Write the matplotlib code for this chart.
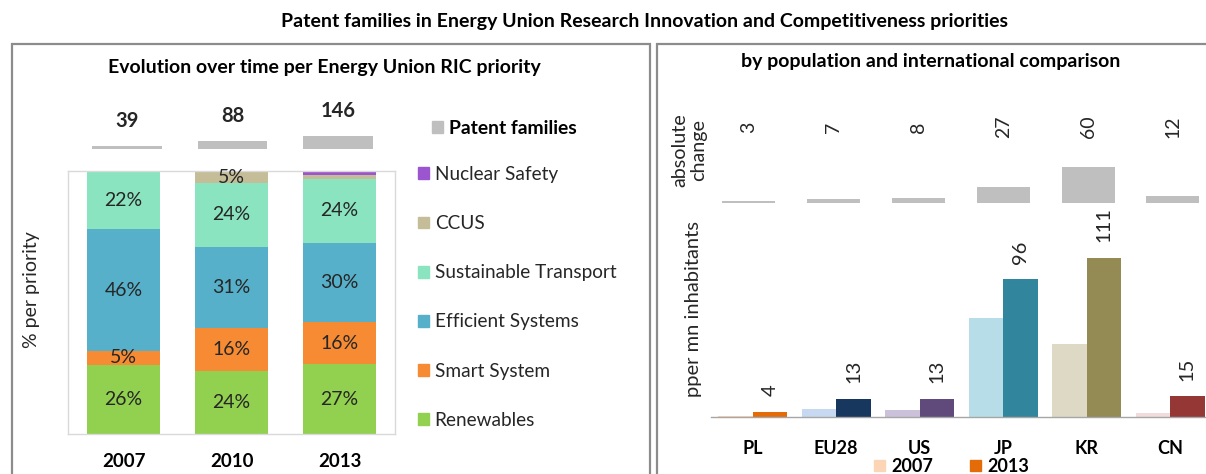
import matplotlib
matplotlib.use("Agg")
import matplotlib.pyplot as plt
from matplotlib.patches import Patch, Rectangle

plt.rcParams['font.family'] = ['Lato', 'DejaVu Sans']

# left panel: share of patent families per priority (%)
years = ['2007', '2010', '2013']
patent_families = [39, 88, 146]
priorities = ['Renewables', 'Smart System', 'Efficient Systems',
              'Sustainable Transport', 'CCUS', 'Nuclear Safety']
renewables = [26.3, 24.1, 26.6]
smart_system = [5.3, 16.3, 15.8]
efficient_systems = [46.3, 30.8, 30.4]
sustainable_transport = [22.1, 24.2, 24.0]
ccus = [0.0, 4.6, 1.6]
nuclear_safety = [0.0, 0.0, 1.6]

# right panel: patent families per mn inhabitants
countries = ['PL', 'EU28', 'US', 'JP', 'KR', 'CN']
per_mn_2007 = [1, 6, 5, 69, 51, 3]
per_mn_2013 = [4, 13, 13, 96, 111, 15]
absolute_change = [3, 7, 8, 27, 60, 12]

prio_colors = ['#92d050', '#f68b33', '#57b0ca', '#8ae4c0', '#c4bd97', '#9b55cf']
fam_color = '#bfbfbf'
colors_2007 = ['#fbd5b5', '#c6d9f1', '#ccc1da', '#b7dee8', '#ddd9c4', '#f2dcdb']
colors_2013 = ['#e36c09', '#17375e', '#604a7b', '#31859c', '#948a54', '#953735']
text_col = '#262626'

W, H = 1206, 474
fig = plt.figure(figsize=(W / 100, H / 100), dpi=100)


def box(x0, y0, x1, y1):
    # pixel box (top-left origin) -> figure fraction rect
    return [x0 / W, 1 - y1 / H, (x1 - x0) / W, (y1 - y0) / H]


def clean(ax):
    for s in ax.spines.values():
        s.set_visible(False)
    ax.set_yticks([])
    ax.tick_params(length=0)


# panel frames
for x0, x1 in [(11.5, 650), (656.5, 1220)]:
    fig.add_artist(Rectangle((x0 / W, -0.1), (x1 - x0) / W, 1.1 - 44.5 / H,
                             transform=fig.transFigure, fill=False,
                             edgecolor='#8c8c8c', lw=1.6))

fig.text(645 / W, 1 - 21 / H,
         'Patent families in Energy Union Research Innovation and Competitiveness priorities',
         ha='center', va='center', fontsize=14, fontweight='bold', color='black')
fig.text(324 / W, 1 - 68 / H, 'Evolution over time per Energy Union RIC priority',
         ha='center', va='center', fontsize=14, fontweight='bold', color='black')
fig.text(931 / W, 1 - 62 / H, 'by population and international comparison',
         ha='center', va='center', fontsize=14, fontweight='bold', color='black')

# --- patent family totals above the stacked bars
ax_fam = fig.add_axes(box(68, 100, 395, 149.3))
clean(ax_fam)
ax_fam.set_xticks([])
xf = range(len(years))
ax_fam.bar(xf, patent_families, width=0.66, color=fam_color)
for i, v in enumerate(patent_families):
    ax_fam.annotate(str(v), (i, v), xytext=(0, 11), textcoords='offset points',
                    ha='center', va='bottom', fontsize=14.5, fontweight='bold',
                    color=text_col)
ax_fam.set_xlim(-0.56, 2.54)
ax_fam.set_ylim(0, 553)

# --- stacked shares per priority
ax_mix = fig.add_axes(box(68, 171, 395, 434))
x = range(len(years))
series = [renewables, smart_system, efficient_systems,
          sustainable_transport, ccus, nuclear_safety]
bottom = [0.0] * len(years)
for name, vals, col in zip(priorities, series, prio_colors):
    ax_mix.bar(x, vals, width=0.667, bottom=bottom, color=col, label=name)
    for i, v in enumerate(vals):
        if v >= 3:
            ax_mix.text(i, bottom[i] + v / 2, f'{v:.0f}%', ha='center',
                        va='center', fontsize=14, color=text_col)
    bottom = [b + v for b, v in zip(bottom, vals)]
ax_mix.set_xlim(-0.514, 2.514)
ax_mix.set_ylim(0, 100)
ax_mix.set_yticks([])
ax_mix.set_xticks(list(x))
ax_mix.set_xticklabels(years, fontsize=13.5, fontweight='bold', color='black')
ax_mix.tick_params(length=0, pad=14)
for s in ax_mix.spines.values():
    s.set_color('#d9d9d9')
    s.set_linewidth(1.0)

fig.text(32 / W, 1 - 290 / H, '% per priority', rotation=90, ha='center',
         va='center', fontsize=14, color=text_col)

handles = [Patch(color=c, label=n) for n, c in zip(priorities, prio_colors)][::-1]
fig.legend(handles=handles, loc='upper left', bbox_to_anchor=(418 / W, 1 - 166 / H),
           frameon=False, fontsize=13.7, handlelength=0.58, handleheight=0.58,
           handletextpad=0.3, labelspacing=1.69, borderaxespad=0, borderpad=0,
           labelcolor=text_col)
fam_leg = fig.legend(handles=[Patch(color=fam_color, label='Patent families')],
                     loc='center left', bbox_to_anchor=(432 / W, 1 - 128 / H),
                     frameon=False, handlelength=0.58, handleheight=0.58,
                     handletextpad=0.3, borderaxespad=0, borderpad=0,
                     prop={'size': 13.9, 'weight': 'bold'})

# --- absolute change 2007-2013
ax_chg = fig.add_axes(box(706.6, 100, 1206, 202.8))
clean(ax_chg)
ax_chg.set_xticks([])
xc = range(len(countries))
ax_chg.bar(xc, absolute_change, width=0.625, color=fam_color)
for i, v in enumerate(absolute_change):
    ax_chg.text(i, 0.737, str(v), transform=ax_chg.get_xaxis_transform(),
                rotation=90, ha='center', va='center', fontsize=14,
                color=text_col)
ax_chg.set_xlim(-0.5, 5.39)
ax_chg.set_ylim(0, 174)
fig.text(689 / W, 1 - 150 / H, 'absolute\nchange', rotation=90, ha='center',
         va='center', fontsize=14.2, color=text_col, linespacing=1.1)

# --- per mn inhabitants, 2007 vs 2013
ax_pop = fig.add_axes(box(711, 210, 1206, 417.4))
bw = 0.413
ax_pop.bar([i - bw / 2 for i in xc], per_mn_2007, width=bw, color=colors_2007)
ax_pop.bar([i + bw / 2 for i in xc], per_mn_2013, width=bw, color=colors_2013)
for i, v in enumerate(per_mn_2013):
    ax_pop.annotate(str(v), (i + bw / 2, v), xytext=(0, 11),
                    textcoords='offset points', rotation=90, ha='center',
                    va='bottom', fontsize=14.5, color=text_col)
ax_pop.set_xlim(-0.5, 5.43)
ax_pop.set_ylim(0, 144)
ax_pop.set_yticks([])
ax_pop.set_xticks(list(xc))
ax_pop.set_xticklabels(countries, fontsize=13, fontweight='bold', color='black')
ax_pop.tick_params(length=0, pad=16)
for k in ['top', 'left', 'right']:
    ax_pop.spines[k].set_visible(False)
ax_pop.spines['bottom'].set_color('#a6a6a6')
ax_pop.spines['bottom'].set_linewidth(1.0)
fig.text(694 / W, 1 - 309 / H, 'pper mn inhabitants', rotation=90, ha='center',
         va='center', fontsize=14.5, color=text_col)

fig.legend(handles=[Patch(color=colors_2007[0], label='2007'),
                    Patch(color=colors_2013[0], label='2013')],
           loc='center left', bbox_to_anchor=(874 / W, 1 - 466.5 / H), ncol=2,
           frameon=False, handlelength=0.62, handleheight=0.62,
           handletextpad=0.35, columnspacing=2.0, borderaxespad=0, borderpad=0,
           prop={'size': 13, 'weight': 'bold'})

fig.savefig('out.png', dpi=100)
